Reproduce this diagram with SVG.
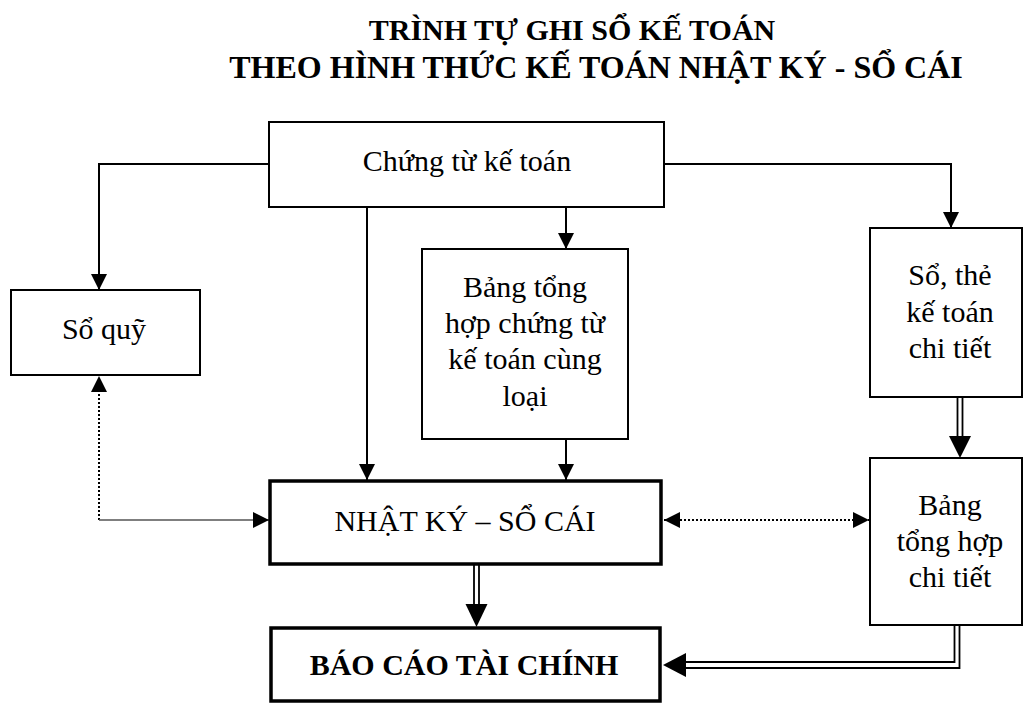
<svg xmlns="http://www.w3.org/2000/svg" width="1025" height="704" viewBox="0 0 1025 704">
  <style>
    text { font-family: "Liberation Serif", "Times New Roman", serif; fill: #000; text-anchor: middle; }
    .title { font-weight: bold; }
    .lbl { font-size: 30px; }
    .bold { font-weight: bold; }
    .box { fill: #fff; stroke: #000; stroke-width: 2; }
    .thick { fill: #fff; stroke: #000; stroke-width: 3.5; }
    .ln { fill: none; stroke: #000; stroke-width: 2; }
    .dot { fill: none; stroke: #000; stroke-width: 2; stroke-dasharray: 2 2; }
    .thin { fill: none; stroke: #555; stroke-width: 1.6; }
    .dbl { fill: none; stroke: #000; stroke-width: 1.8; }
  </style>
  <defs>
    <marker id="arr" viewBox="0 0 10 10" refX="10" refY="5" markerWidth="16" markerHeight="16" markerUnits="userSpaceOnUse" orient="auto-start-reverse">
      <path d="M0,0 L10,5 L0,10 Z" fill="#000"/>
    </marker>
  </defs>

  <rect width="1025" height="704" fill="#fff"/>

  <g id="title">
    <text class="title" x="572" y="40" font-size="30">TRÌNH TỰ GHI SỔ KẾ TOÁN</text>
    <text class="title" x="596" y="78" font-size="32">THEO HÌNH THỨC KẾ TOÁN NHẬT KÝ - SỔ CÁI</text>
  </g>

  <g id="connectors">
    <!-- from source documents to cash book -->
    <path class="ln" d="M269,164 H99 V290" marker-end="url(#arr)"/>
    <!-- from source documents to detail ledgers -->
    <path class="ln" d="M664,164 H951 V228" marker-end="url(#arr)"/>
    <!-- from source documents straight to journal-ledger -->
    <path class="ln" d="M367,207 V480" marker-end="url(#arr)"/>
    <!-- from source documents to summary of documents -->
    <path class="ln" d="M566,207 V249" marker-end="url(#arr)"/>
    <!-- summary of documents to journal-ledger -->
    <path class="ln" d="M566,439 V480" marker-end="url(#arr)"/>
    <!-- cash book reconciliation -->
    <path class="dot" d="M99,520 V376" marker-end="url(#arr)"/>
    <path class="thin" d="M99,520 H269" marker-end="url(#arr)"/>
    <!-- journal-ledger vs detail summary reconciliation -->
    <path class="dot" d="M664,520 H869" marker-start="url(#arr)" marker-end="url(#arr)"/>
    <!-- detail ledgers to detail summary (double) -->
    <path class="dbl" d="M957.5,397 V438 M962.5,397 V438"/>
    <path d="M949,436 L971,436 L960,458 Z" fill="#000"/>
    <!-- journal-ledger to financial statements (double) -->
    <path class="dbl" d="M474,564 V606 M479,564 V606"/>
    <path d="M465.5,604 L487.5,604 L476.5,627 Z" fill="#000"/>
    <!-- detail summary to financial statements (double) -->
    <path class="dbl" d="M954.5,625 V662 H684 M959.5,625 V668 H684"/>
    <path d="M686,653 L686,677 L663,665 Z" fill="#000"/>
  </g>

  <g id="node-chung-tu">
    <rect class="box" x="269" y="122" width="395" height="85"/>
    <text class="lbl" x="467" y="171">Chứng từ kế toán</text>
  </g>

  <g id="node-so-quy">
    <rect class="box" x="11" y="290" width="189" height="85"/>
    <text class="lbl" x="104" y="339">Sổ quỹ</text>
  </g>

  <g id="node-bang-tong-hop-chung-tu">
    <rect class="box" x="422" y="249" width="206" height="190"/>
    <text class="lbl" x="525" y="297">Bảng tổng</text>
    <text class="lbl" x="525" y="333">hợp chứng từ</text>
    <text class="lbl" x="525" y="369">kế toán cùng</text>
    <text class="lbl" x="525" y="406">loại</text>
  </g>

  <g id="node-so-the-chi-tiet">
    <rect class="box" x="870" y="228" width="152" height="169"/>
    <text class="lbl" x="950" y="285">Sổ, thẻ</text>
    <text class="lbl" x="950" y="322">kế toán</text>
    <text class="lbl" x="950" y="358">chi tiết</text>
  </g>

  <g id="node-nhat-ky-so-cai">
    <rect class="thick" x="270" y="481" width="391" height="83"/>
    <text class="lbl" x="465" y="531">NHẬT KÝ – SỔ CÁI</text>
  </g>

  <g id="node-bang-tong-hop-chi-tiet">
    <rect class="box" x="870" y="458" width="152" height="167"/>
    <text class="lbl" x="950" y="515">Bảng</text>
    <text class="lbl" x="950" y="551">tổng hợp</text>
    <text class="lbl" x="950" y="587">chi tiết</text>
  </g>

  <g id="node-bao-cao-tai-chinh">
    <rect class="thick" x="271" y="628" width="389" height="73"/>
    <text class="lbl bold" x="464" y="675">BÁO CÁO TÀI CHÍNH</text>
  </g>
</svg>
